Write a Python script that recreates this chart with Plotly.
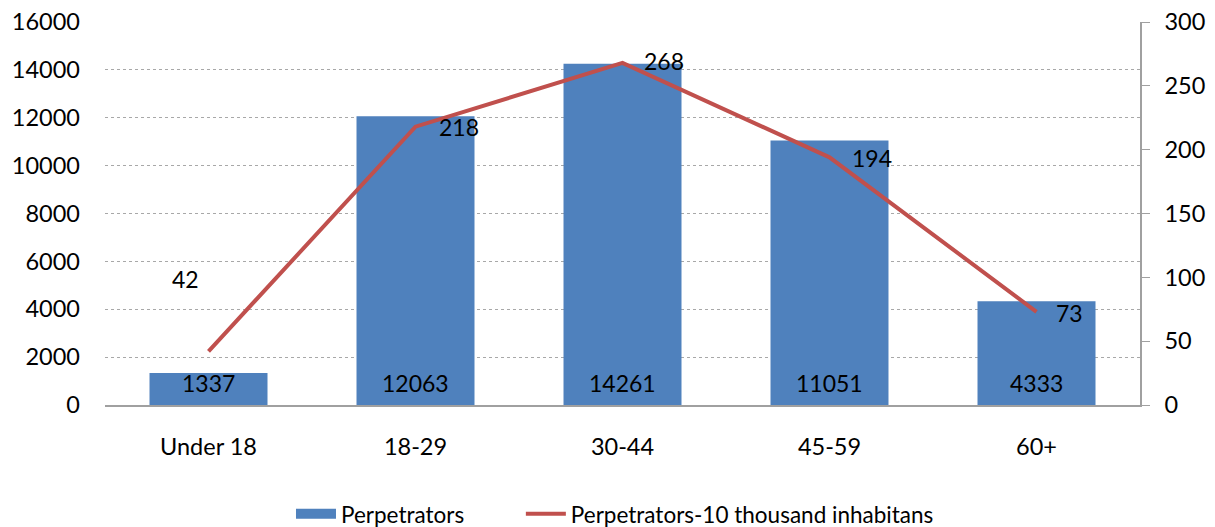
import plotly.graph_objects as go

categories = ["Under 18", "18-29", "30-44", "45-59", "60+"]
perpetrators = [1337, 12063, 14261, 11051, 4333]
per_10k = [42, 218, 268, 194, 73]
left_ticks = [0, 2000, 4000, 6000, 8000, 10000, 12000, 14000, 16000]
right_ticks = [0, 50, 100, 150, 200, 250, 300]

FONT = "Lato"
BLUE = "#4F81BD"
RED = "#C0504D"
fig = go.Figure()
fig.add_trace(go.Bar(
    x=categories, y=perpetrators, name="Perpetrators",
    marker=dict(color=BLUE, line=dict(width=0)),
    width=0.57, showlegend=False,
))
# legend-only entry with a wide rectangle symbol, like the original
fig.add_trace(go.Scatter(
    x=[None], y=[None], name="Perpetrators", mode="lines",
    line=dict(color=BLUE, width=14), showlegend=True, legend="legend",
))
fig.add_trace(go.Scatter(
    x=categories, y=per_10k, name="Perpetrators-10 thousand inhabitans",
    mode="lines", line=dict(color=RED, width=4), yaxis="y2", legend="legend2",
))
# bar value labels near the base of each bar
for c, v in zip(categories, perpetrators):
    fig.add_annotation(x=c, y=0, text=str(v), showarrow=False, yanchor="middle",
                       yshift=22, font=dict(size=23, color="black", family=FONT))
# line value labels
shifts = [(-23, 72), (43, 0), (41, 2), (42, -1), (33, -1)]
for c, v, (dx, dy) in zip(categories, per_10k, shifts):
    fig.add_annotation(x=c, y=v, yref="y2", text=str(v), showarrow=False,
                       xshift=dx, yshift=dy, font=dict(size=23, color="black", family=FONT))

legend_common = dict(orientation="h", xanchor="left", y=-0.285, yanchor="middle",
                     font=dict(size=22.5), itemwidth=40, bgcolor="rgba(0,0,0,0)")
fig.update_layout(
    width=1215, height=527,
    margin=dict(l=105, r=75, t=22, b=122, autoexpand=False),
    plot_bgcolor="white", paper_bgcolor="white",
    font=dict(family=FONT, size=23, color="black"),
    bargap=0.43,
    showlegend=True,
    legend=dict(x=0.1797, **legend_common),
    legend2=dict(x=0.4018, **legend_common),
    xaxis=dict(showline=True, linecolor="#A0A0A0", linewidth=1.5, ticks="",
               ticklabelstandoff=20, tickfont=dict(size=23.5), automargin=False),
    yaxis=dict(range=[0, 16000], tickvals=left_ticks, tickformat="d", showgrid=True,
               gridcolor="#A8A8A8", griddash="dot", gridwidth=1,
               showline=False, zeroline=False, ticks="", ticklabelstandoff=24,
               tickfont=dict(size=23.5), automargin=False, ticklabeloverflow="allow"),
    yaxis2=dict(range=[0, 300], tickvals=right_ticks, overlaying="y", side="right",
                showgrid=False, showline=True, linecolor="#A0A0A0", linewidth=1.5,
                ticks="outside", ticklen=8, tickcolor="#A0A0A0", zeroline=False,
                ticklabelstandoff=10, tickfont=dict(size=23.5), automargin=False,
                ticklabeloverflow="allow"),
)
fig.write_html(
    "out.html",
    config={"displayModeBar": False},
    post_script="document.body.style.margin='0';document.body.style.overflow='hidden';",
)
